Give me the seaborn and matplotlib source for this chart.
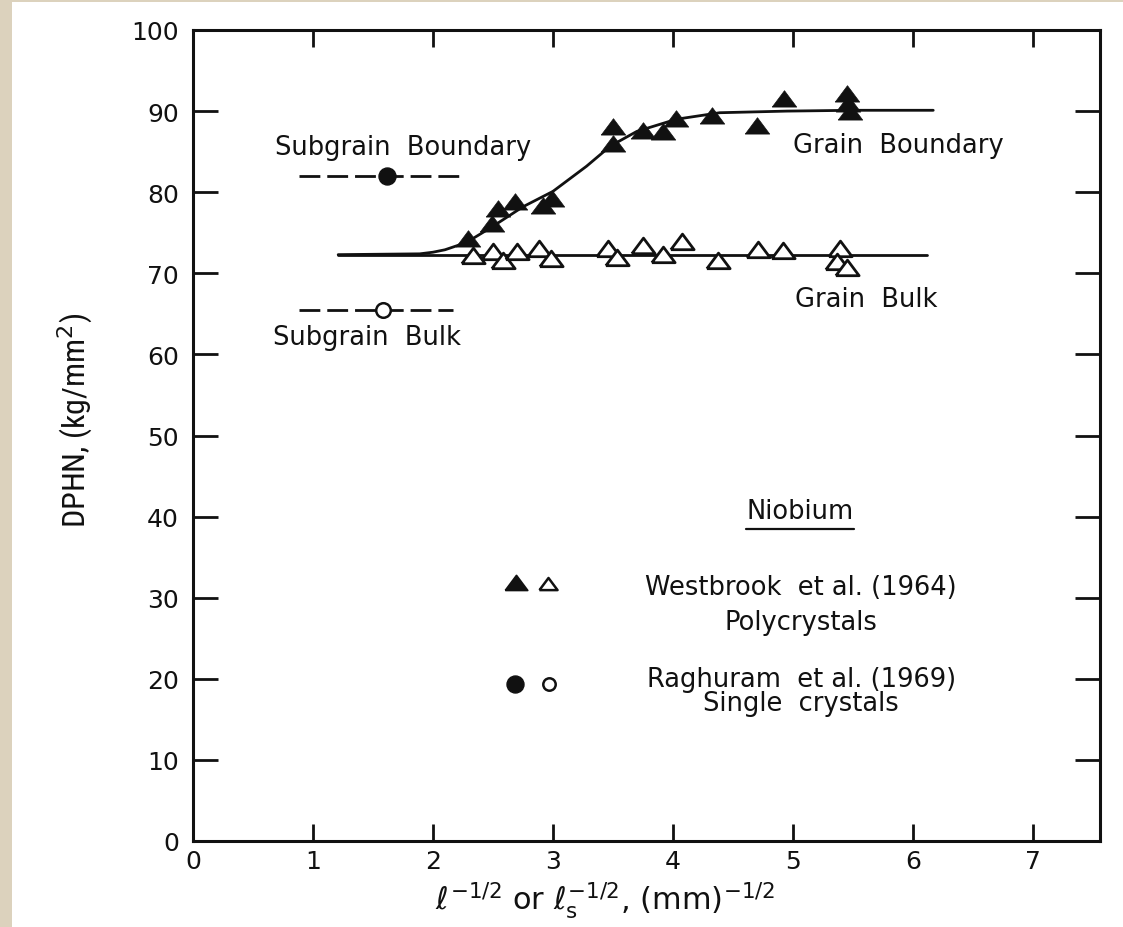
import matplotlib
matplotlib.use("Agg")
import matplotlib.pyplot as plt
import matplotlib.patches as mpatches
from matplotlib import font_manager
import seaborn as sns
import pandas as pd

# Westbrook et al. (1964), polycrystals: grain-boundary hardness (filled triangles)
gb_x = [2.29, 2.49, 2.54, 2.68, 2.92, 2.99, 3.50, 3.50, 3.75, 3.92, 4.03, 4.33, 4.70, 4.93, 5.45, 5.46, 5.48]
gb_y = [74.2, 76.1, 77.9, 78.8, 78.3, 79.1, 88.0, 85.9, 87.5, 87.4, 89.0, 89.4, 88.2, 91.5, 92.1, 90.9, 89.9]

# Westbrook et al. (1964), polycrystals: grain-bulk hardness (open triangles)
bulk_x = [2.33, 2.50, 2.58, 2.70, 2.88, 2.98, 3.46, 3.53, 3.75, 3.92, 4.08, 4.38, 4.71, 4.92, 5.39, 5.37, 5.45]
bulk_y = [72.1, 72.6, 71.5, 72.6, 73.0, 71.8, 73.0, 71.9, 73.4, 72.3, 73.9, 71.5, 72.9, 72.7, 73.0, 71.4, 70.7]

# Fitted curves
gb_curve_x = [1.21, 1.89, 2.00, 2.10, 2.20, 2.29, 2.49, 2.75, 3.00, 3.28, 3.48, 3.70, 4.03, 4.39, 4.95, 5.50, 6.17]
gb_curve_y = [72.3, 72.4, 72.6, 72.9, 73.4, 73.9, 75.7, 78.2, 80.1, 83.2, 85.7, 87.5, 89.0, 89.8, 90.0, 90.1, 90.1]
bulk_line_x = [1.21, 6.12]
bulk_line_y = [72.3, 72.3]

# Raghuram et al. (1969), single crystals
sub_boundary_x, sub_boundary_y = [1.62], [82.0]
sub_bulk_x, sub_bulk_y = [1.58], [65.5]
sub_boundary_span = [0.88, 2.24]
sub_bulk_span = [0.88, 2.17]

x_ticks = [0, 1, 2, 3, 4, 5, 6, 7]
y_ticks = [0, 10, 20, 30, 40, 50, 60, 70, 80, 90, 100]

sns.set_theme(style="ticks")
plt.rcParams["font.family"] = ["DejaVu Sans"]
plt.rcParams["lines.scale_dashes"] = False

# a narrow face for the vertical axis title, if one is installed
available = {f.name for f in font_manager.fontManager.ttflist}
narrow = [n for n in ["Liberation Sans Narrow", "DejaVu Sans Condensed", "Roboto Condensed",
                      "Open Sans Condensed"] if n in available]
ylabel_family = (narrow[:1] or ["Liberation Sans"]) + ["DejaVu Sans"]

fig = plt.figure(figsize=(11.23, 9.28), dpi=100, facecolor="white")
# paper edge strips
fig.patches.append(mpatches.Rectangle((0, 0), 12 / 1123, 1, transform=fig.transFigure,
                                      facecolor="#dcd2bd", edgecolor="none", zorder=-5))
fig.patches.append(mpatches.Rectangle((0, 1 - 3 / 928), 1, 3 / 928, transform=fig.transFigure,
                                      facecolor="#dcd2bd", edgecolor="none", zorder=-5))

ax = fig.add_axes([193 / 1123, 1 - 842 / 928, (1100 - 193) / 1123, (842 - 31) / 928])
ax.set_facecolor("white")

ink = "#111111"
lw = 2.0

# fitted curves
sns.lineplot(x=gb_curve_x, y=gb_curve_y, ax=ax, color=ink, lw=lw, sort=False, estimator=None)
sns.lineplot(x=bulk_line_x, y=bulk_line_y, ax=ax, color=ink, lw=lw, sort=False, estimator=None)

# dashed subgrain levels
for span, yv in [(sub_boundary_span, sub_boundary_y[0]), (sub_bulk_span, sub_bulk_y[0])]:
    ax.plot(span, [yv, yv], color=ink, lw=lw, dashes=(15, 5))

# squat triangle marker, closed outline
tri = [(-1.0, -0.62), (1.0, -0.62), (0.0, 0.72), (-1.0, -0.62)]

df_gb = pd.DataFrame({"x": gb_x, "y": gb_y})
df_bulk = pd.DataFrame({"x": bulk_x, "y": bulk_y})
sns.scatterplot(data=df_bulk, x="x", y="y", ax=ax, marker=tri, s=280,
                facecolor="white", edgecolor=ink, linewidth=2.0, zorder=4)
sns.scatterplot(data=df_gb, x="x", y="y", ax=ax, marker=tri, s=310,
                color=ink, edgecolor=ink, linewidth=0.5, zorder=5)
sns.scatterplot(x=sub_boundary_x, y=sub_boundary_y, ax=ax, marker="o", s=150,
                color=ink, edgecolor=ink, zorder=5)
sns.scatterplot(x=sub_bulk_x, y=sub_bulk_y, ax=ax, marker="o", s=110,
                facecolor="white", edgecolor=ink, linewidth=1.8, zorder=5)

# key symbols
sns.scatterplot(x=[2.69], y=[31.8], ax=ax, marker=tri, s=260, color=ink, edgecolor=ink, zorder=5)
sns.scatterplot(x=[2.96], y=[31.7], ax=ax, marker=tri, s=170, facecolor="white",
                edgecolor=ink, linewidth=1.8, zorder=5)
sns.scatterplot(x=[2.68], y=[19.4], ax=ax, marker="o", s=150, color=ink, edgecolor=ink, zorder=5)
sns.scatterplot(x=[2.97], y=[19.4], ax=ax, marker="o", s=80, facecolor="white",
                edgecolor=ink, linewidth=1.8, zorder=5)

fs = 18.5
ax.text(0.68, 85.6, "Subgrain  Boundary", fontsize=fs, color=ink, va="center", ha="left")
ax.text(0.67, 62.1, "Subgrain  Bulk", fontsize=fs, color=ink, va="center", ha="left")
ax.text(5.00, 85.8, "Grain  Boundary", fontsize=fs, color=ink, va="center", ha="left")
ax.text(5.02, 66.8, "Grain  Bulk", fontsize=fs, color=ink, va="center", ha="left")
nb = ax.text(5.06, 40.7, "Niobium", fontsize=fs, color=ink, va="center", ha="center")
ax.text(5.07, 31.3, "Westbrook  et al. (1964)", fontsize=fs, color=ink, va="center", ha="center")
ax.text(5.07, 27.0, "Polycrystals", fontsize=fs, color=ink, va="center", ha="center")
ax.text(5.07, 20.0, "Raghuram  et al. (1969)", fontsize=fs, color=ink, va="center", ha="center")
ax.text(5.07, 17.0, "Single  crystals", fontsize=fs, color=ink, va="center", ha="center")

ax.set_xlim(0, 7.56)
ax.set_ylim(0, 100)
ax.set_xticks(x_ticks)
ax.set_yticks(y_ticks)
ax.set_xticklabels([str(v) for v in x_ticks], fontsize=18, color=ink)
ax.set_yticklabels([str(v) for v in y_ticks], fontsize=18, color=ink)
ax.tick_params(axis="both", which="both", direction="in", color=ink, width=2.0,
               top=True, right=True)
ax.tick_params(axis="x", length=12, pad=6)
ax.tick_params(axis="y", length=18, pad=10)
for s in ax.spines.values():
    s.set_linewidth(2.2)
    s.set_color(ink)

ax.set_xlabel(r"$\ell^{-1/2}$ or $\ell_{\rm s}^{-1/2}$, (mm)$^{-1/2}$", fontsize=22,
              color=ink)
ax.xaxis.set_label_coords(0.454, -0.072)
ax.xaxis.label.set_va("center")
ax.set_ylabel(r"DPHN, (kg/mm$^2$)", fontsize=23, color=ink, family=ylabel_family)
ax.yaxis.set_label_coords(-0.130, 0.52)
ax.yaxis.label.set_va("center")

# underline for the key heading
fig.canvas.draw()
bb = nb.get_window_extent().transformed(ax.transData.inverted())
ax.plot([bb.x0, bb.x1], [bb.y0 - 0.6, bb.y0 - 0.6], color=ink, lw=1.6)

fig.savefig("out.png", dpi=100, facecolor=fig.get_facecolor())
